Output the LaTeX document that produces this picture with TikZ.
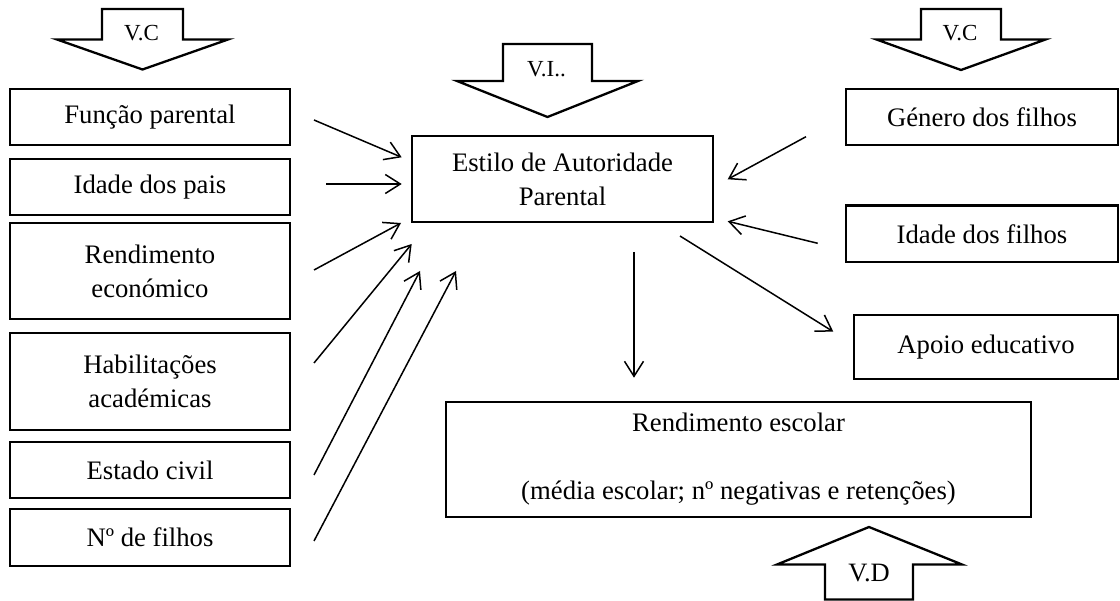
\documentclass[tikz,border=0pt]{standalone}
\usepackage{fontspec}
\setmainfont{Liberation Serif}
\usetikzlibrary{arrows.meta}
\begin{document}
\begin{tikzpicture}[x=1pt,y=-1pt,
  box/.style={draw, line width=2.3pt, inner sep=0pt, align=center,
    font=\fontsize{26.7}{34}\selectfont},
  conn/.style={line width=1.5pt, -{Straight Barb[length=15pt,width=19pt,line width=1.5pt]}},
  blockarrow/.style={draw, line width=2.3pt, line join=miter},
  smalllab/.style={anchor=base, inner sep=0pt, font=\fontsize{23}{27}\selectfont},
  biglab/.style={anchor=base, inner sep=0pt, font=\fontsize{26.5}{30}\selectfont}]
\useasboundingbox (0,0) rectangle (1120,601);

% block arrows
\draw[blockarrow] (102,9) -- (183,9) -- (183,39.5) -- (228,39.5) -- (142.5,69.5) -- (57,39.5) -- (102,39.5) -- cycle;
\node[smalllab] (vc1) at (141.5,40.5) {V.C};
\draw[blockarrow] (921,9) -- (1001,9) -- (1001,39.5) -- (1045.5,39.5) -- (961,70) -- (876.5,39.5) -- (921,39.5) -- cycle;
\node[smalllab] (vc2) at (960,40.5) {V.C};
\draw[blockarrow] (503,44) -- (592,44) -- (592,81) -- (638,81) -- (547.5,117) -- (457,81) -- (503,81) -- cycle;
\node[smalllab] (vi) at (546.5,77) {V.I..};
\draw[blockarrow] (825,599.5) -- (825,564.5) -- (777,564.5) -- (869,527) -- (962,564.5) -- (913,564.5) -- (913,599.5) -- cycle;
\node[biglab] (vd) at (869,581.5) {V.D};

% left boxes
\node[box, minimum width=280, minimum height=56] (f1) at (150,117) {Função parental};
\node[box, minimum width=280, minimum height=56] (f2) at (150,187) {Idade dos pais};
\node[box, minimum width=280, minimum height=96] (f3) at (150,271) {Rendimento\\económico};
\node[box, minimum width=280, minimum height=97] (f4) at (150,381.5) {Habilitações\\académicas};
\node[box, minimum width=280, minimum height=56] (f5) at (150,470) {Estado civil};
\node[box, minimum width=280, minimum height=56.5] (f6) at (150,537.5) {Nº de filhos};

% central and right boxes
\node[box, minimum width=301, minimum height=86] (est) at (562.5,179) {Estilo de Autoridade\\Parental};
\node[box, minimum width=272, minimum height=56] (gen) at (982,117) {Género dos filhos};
\node[box, minimum width=272, minimum height=56.5] (idf) at (982,233.75) {Idade dos filhos};
\node[box, minimum width=264, minimum height=64] (apo) at (986,347) {Apoio educativo};
\node[box, minimum width=585, minimum height=115] (res) at (738.5,459.5) {Rendimento escolar\\[34pt](média escolar; nº negativas e retenções)};

% connector end points
\coordinate (s1) at (314,120);   \coordinate (e1) at (401.7,157.3);
\coordinate (s2) at (326,184);   \coordinate (e2) at (401.7,184);
\coordinate (s3) at (314,270);   \coordinate (e3) at (401,223);
\coordinate (s4) at (314,363);   \coordinate (e4) at (411.7,244);
\coordinate (s5) at (314,475);   \coordinate (e5) at (420,271);
\coordinate (s6) at (314,541);   \coordinate (e6) at (456,271);
\coordinate (s7) at (806,136.7); \coordinate (e7) at (727.7,179.3);
\coordinate (s8) at (817.7,243.3); \coordinate (e8) at (727.7,221.3);
\coordinate (s9) at (634,252);   \coordinate (e9) at (634,377.7);
\coordinate (s10) at (680,236);  \coordinate (e10) at (833.3,331.7);

\foreach \i in {1,...,10} {\draw[conn] (s\i) -- (e\i);}
\end{tikzpicture}
\end{document}
